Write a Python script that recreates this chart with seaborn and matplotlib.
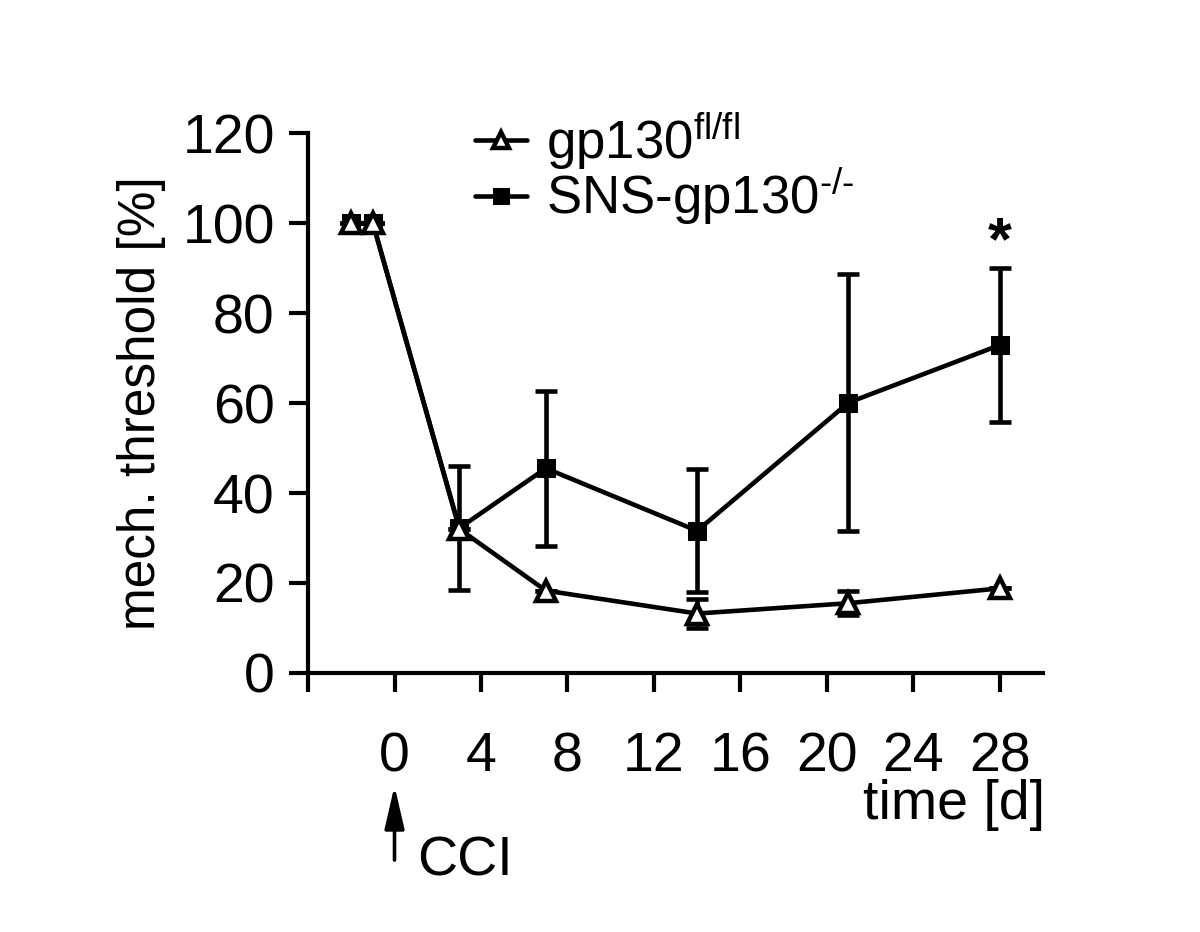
import numpy as np
import pandas as pd
import matplotlib
matplotlib.use("Agg")
import matplotlib.pyplot as plt
import seaborn as sns

# data
days = [-2, -1, 3, 7, 14, 21, 28]
fl_mean = [100, 100, 32, 18.3, 13.2, 15.5, 18.8]
fl_sem = [0, 0, 0, 0, 3.3, 2.7, 0]
ko_mean = [100, 100, 32.2, 45.5, 31.6, 60.1, 72.9]
ko_sem = [0, 0, 13.7, 17.2, 13.7, 28.5, 17.2]

x_ticks = [-4, 0, 4, 8, 12, 16, 20, 24, 28]
x_ticklabels = ["", "0", "4", "8", "12", "16", "20", "24", "28"]
y_ticks = [0, 20, 40, 60, 80, 100, 120]

sns.set_style("ticks")
plt.rcParams['font.family'] = ['Liberation Sans', 'DejaVu Sans']
plt.rcParams['mathtext.fontset'] = 'custom'
plt.rcParams['mathtext.rm'] = 'Liberation Sans'
plt.rcParams['mathtext.it'] = 'Liberation Sans'
for k in ['text.color', 'axes.labelcolor', 'xtick.color', 'ytick.color', 'axes.edgecolor']:
    plt.rcParams[k] = 'black'

df = pd.DataFrame({
    'day': days * 2,
    'value': fl_mean + ko_mean,
    'group': ['fl'] * len(days) + ['ko'] * len(days),
})

fig = plt.figure(figsize=(12, 9.32), dpi=100)
ax = fig.add_axes([0.2567, 0.278, 0.6125, 0.579])

lw = 3.3
# error bars first
ax.errorbar(days, ko_mean, yerr=ko_sem, fmt='none', ecolor='black',
            elinewidth=lw, capsize=8, capthick=lw, zorder=2)
ax.errorbar(days, fl_mean, yerr=fl_sem, fmt='none', ecolor='black',
            elinewidth=lw, capsize=8, capthick=lw, zorder=2)

sns.lineplot(data=df[df.group == 'ko'], x='day', y='value', ax=ax,
             color='black', linewidth=lw, marker='s', markersize=13.5,
             markerfacecolor='black', markeredgecolor='black', zorder=3,
             label=r'SNS-gp130$^{\text{-/-}}$')
sns.lineplot(data=df[df.group == 'fl'], x='day', y='value', ax=ax,
             color='black', linewidth=lw, marker='^', markersize=15,
             markerfacecolor='white', markeredgecolor='black',
             markeredgewidth=3.2, zorder=4, label=r'gp130$^{\mathrm{fl/fl}}$')

ax.set_xlim(-4, 30)
ax.set_ylim(0, 120)
ax.set_xticks(x_ticks)
ax.set_xticklabels(x_ticklabels)
ax.set_yticks(y_ticks)
ax.tick_params(labelsize=40, width=3, length=14, direction='out')
ax.tick_params(axis='x', pad=28)
ax.tick_params(axis='y', pad=10)
ax.set_xlabel('')
ax.set_ylabel('mech. threshold [%]', fontsize=37, labelpad=12)
for s in ['top', 'right']:
    ax.spines[s].set_visible(False)
for s in ['left', 'bottom']:
    ax.spines[s].set_linewidth(3)

ax.text(28, 95.5, '*', fontsize=44, fontweight='bold', ha='center', va='center')

handles, labels = ax.get_legend_handles_labels()
leg = ax.legend(handles[::-1], labels[::-1], loc='upper left', bbox_to_anchor=(0.378, 0.905),
                bbox_transform=fig.transFigure, frameon=False, fontsize=38,
                handlelength=1.0, handletextpad=0.35, labelspacing=-0.12, borderaxespad=0)
for h in leg.legend_handles:
    h.set_markersize(11)

fig.text(0.871, 0.108, 'time [d]', fontsize=40, ha='right', va='bottom')
fig.text(0.348, 0.048, 'CCI', fontsize=40, ha='left', va='bottom')
ax.annotate('', xy=(0, -0.204), xytext=(0, -0.352),
            xycoords=('data', 'axes fraction'), textcoords=('data', 'axes fraction'),
            arrowprops=dict(arrowstyle='-|>,head_length=1.3,head_width=0.3',
                            color='black', lw=2.6, mutation_scale=20),
            annotation_clip=False)

fig.savefig('out.png', dpi=100)
